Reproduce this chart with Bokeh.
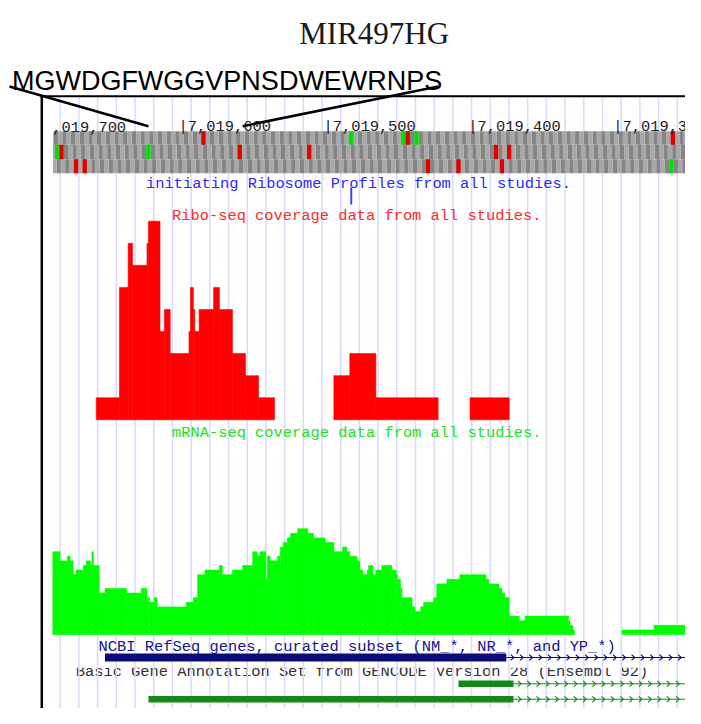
import numpy as np
from bokeh.plotting import figure
from bokeh.models import Range1d
from bokeh.core.properties import value
from bokeh.embed import file_html
from bokeh.resources import INLINE

# ---------------- data (genome coordinates, chr17) ----------------
title_text = "MIR497HG"
peptide = "MGWDGFWGGVPNSDWEWRNPS"
orf_bounds = [7019624, 7019559]          # ATG centre, end of stop codon

ruler_ticks = [7019600, 7019500, 7019400, 7019300]
ruler_labels = ["|7,019,600", "|7,019,500", "|7,019,400", "|7,019,300"]
ruler_clipped_tick = 7019700
ruler_clipped_label = ",019,700"

# start (green) / stop (red) codons in the three reading frames
codon_frame = [1, 1, 1, 1, 1, 1,
               2, 2, 2, 2, 2, 2, 2,
               3, 3, 3, 3, 3, 3]
codon_center = [7019586, 7019484, 7019448, 7019445, 7019439, 7019262,
                7019687, 7019684, 7019624, 7019561, 7019513, 7019384, 7019375,
                7019674, 7019668, 7019431, 7019410, 7019380, 7019263]
codon_kind = ["stop", "start", "start", "stop", "start", "stop",
              "start", "stop", "start", "stop", "stop", "stop", "stop",
              "stop", "stop", "stop", "stop", "stop", "start"]

# initiating ribosome profile peak
iribo_pos = [7019484]

# Ribo-seq coverage (reads)
ribo_start = [7019660, 7019644, 7019638, 7019635, 7019625, 7019624, 7019616, 7019613,
              7019609, 7019596, 7019595, 7019593, 7019592, 7019589, 7019579, 7019575,
              7019566, 7019557, 7019548, 7019496, 7019485, 7019467, 7019402]
ribo_end = [7019644, 7019638, 7019635, 7019625, 7019624, 7019616, 7019613, 7019609,
            7019596, 7019595, 7019593, 7019592, 7019589, 7019579, 7019575, 7019566,
            7019557, 7019548, 7019537, 7019485, 7019467, 7019424, 7019375]
ribo_reads = [1, 6, 8, 7, 8, 9, 4, 5, 3, 4, 6, 5, 4, 5, 6, 5, 3, 2, 1, 2, 3, 1, 1]

# mRNA-seq coverage: step edges and coverage between consecutive edges
mrna_edges = [7019690, 7019685, 7019680, 7019678, 7019676, 7019674, 7019669, 7019667,
              7019664, 7019663, 7019662, 7019658, 7019654, 7019639, 7019629, 7019625,
              7019624, 7019623, 7019620, 7019618, 7019598, 7019593, 7019590, 7019585,
              7019575, 7019573, 7019566, 7019559, 7019552, 7019549, 7019547, 7019543,
              7019542, 7019540, 7019535, 7019533, 7019531, 7019528, 7019526, 7019521,
              7019514, 7019510, 7019502, 7019496, 7019490, 7019487, 7019485, 7019480,
              7019478, 7019476, 7019473, 7019472, 7019469, 7019467, 7019463, 7019456,
              7019453, 7019452, 7019450, 7019449, 7019442, 7019440, 7019436, 7019434,
              7019427, 7019425, 7019418, 7019409, 7019391, 7019389, 7019382, 7019380,
              7019378, 7019375, 7019368, 7019364, 7019334, 7019333, 7019331, 7019330,
              7019297, 7019275, 7019248, 7019244, 7019230]
mrna_cov = [18, 16, 17, 16, 13, 14, 15, 16, 15, 18, 15, 9, 10, 9, 10, 7,
            8, 7, 8, 6, 7, 8, 13, 14, 15, 13, 14, 15, 18, 17, 18, 12,
            17, 16, 17, 19, 20, 21, 22, 23, 22, 21, 20, 18, 19, 18, 17, 16,
            14, 13, 14, 15, 13, 14, 15, 14, 13, 12, 10, 8, 6, 5, 6, 7,
            8, 11, 12, 13, 12, 11, 10, 9, 8, 4, 3, 4, 3, 2, 1, 0,
            1, 2, 1, 2]

# gene models
refseq_exon = [7019654, 7019377]
refseq_intron_end = 7019230
gencode_exon_start = [7019410, 7019624, 7019654]
gencode_exon_end = [7019372, 7019372, 7019230]
gencode_intron_end = [7019230, 7019230, None]

label_iribo = "initiating Ribosome Profiles from all studies."
label_ribo = "Ribo-seq coverage data from all studies."
label_mrna = "mRNA-seq coverage data from all studies."
label_refseq = "NCBI RefSeq genes, curated subset (NM_*, NR_*, and YP_*)"
label_gencode = "Basic Gene Annotation Set from GENCODE Version 28 (Ensembl 92)"

# ---------------- layout (picture pixels) ----------------
REF_BP, REF_PX, PX_PER_BP = 7019600, 182.7, 1.4487
W, H = 685, 708


def g(px):
    return REF_BP - (px - REF_PX) / PX_PER_BP


RIBO_BASE, RIBO_PX = 419.3, 22.07
MRNA_BASE, MRNA_PX = 634.0, 4.6
VIEW_LEFT = g(52.5)
VIEW_RIGHT = g(701)
MONO = value("Liberation Mono")
FS = "15.4px"
CHAR_W = 9.24

p = figure(width=W, height=H, x_range=Range1d(g(0), g(W)), y_range=Range1d(H, 0),
           output_backend="svg", toolbar_location=None, min_border=0,
           x_axis_location=None, y_axis_location=None, title=None,
           outline_line_color=None, background_fill_color="white",
           border_fill_color="white")
p.grid.visible = False
p.extra_y_ranges = {
    "ribo": Range1d((RIBO_BASE - H) / RIBO_PX, RIBO_BASE / RIBO_PX),
    "mrna": Range1d((MRNA_BASE - H) / MRNA_PX, MRNA_BASE / MRNA_PX),
}

# GENCODE track label, mostly hidden behind the upper browser panel
p.text(x=[g(361.5)], y=[671.3], text=[label_gencode], text_font=MONO, text_font_size=FS,
       text_color="#333333", text_align="center", text_baseline="alphabetic")
p.quad(left=[g(45)], right=[g(701)], top=[657], bottom=[667.3],
       fill_color="white", line_color=None)

# guide lines
grid_step = 18.7 / PX_PER_BP
grid_x = g(59.7) - grid_step * np.arange(0, 36)
p.segment(x0=grid_x, y0=97, x1=grid_x, y1=724, line_color="#d9d9ff", line_width=1.5)

# three-frame translation
frame_rows = {1: (130.7, 144.3), 2: (144.3, 158.7), 3: (158.7, 172.7)}
for f, (top, bot) in frame_rows.items():
    anchor = next(c for fr, c in zip(codon_frame, codon_center) if fr == f)
    k = np.arange(-250, 250)
    cen = anchor + 3 * k
    keep = (cen - 1.5 < VIEW_LEFT) & (cen + 1.5 > VIEW_RIGHT - 6)
    cen, kk = cen[keep], k[keep]
    p.quad(left=np.minimum(cen + 1.5, VIEW_LEFT), right=cen - 1.5, top=top, bottom=bot,
           fill_color=np.where(kk % 2 == 0, "#858585", "#a8a8a8").tolist(), line_color=None)
cc = np.array(codon_center, dtype=float)
p.quad(left=np.minimum(cc + 1.5, VIEW_LEFT), right=cc - 1.5,
       top=[frame_rows[f][0] for f in codon_frame],
       bottom=[frame_rows[f][1] for f in codon_frame],
       fill_color=["#00e000" if k == "start" else "#e00000" for k in codon_kind],
       line_color=None)

# ruler
p.text(x=ruler_ticks, y=126.7, text=ruler_labels, text_font=MONO, text_font_size=FS,
       text_color="#222222", text_align="left", text_baseline="alphabetic", x_offset=-4.6)
p.text(x=[ruler_clipped_tick], y=[126.7], text=[ruler_clipped_label], text_font=MONO,
       text_font_size=FS, text_color="#222222", text_align="left",
       text_baseline="alphabetic", x_offset=-4.6 + 2 * CHAR_W)

# track labels
p.text(x=[g(358)], y=[183.3], text=[label_iribo], text_font=MONO, text_font_size=FS,
       text_color="#2a2aff", text_align="center", text_baseline="alphabetic")
p.text(x=[g(356.2)], y=[215], text=[label_ribo], text_font=MONO, text_font_size=FS,
       text_color="#ff2a2a", text_align="center", text_baseline="alphabetic")
p.text(x=[g(356.2)], y=[432], text=[label_mrna], text_font=MONO, text_font_size=FS,
       text_color="#22e022", text_align="center", text_baseline="alphabetic")
p.text(x=[g(356.7)], y=[646.7], text=[label_refseq], text_font=MONO, text_font_size=FS,
       text_color="#14148c", text_align="center", text_baseline="alphabetic")

# initiating ribosome peak
p.segment(x0=iribo_pos, y0=187, x1=iribo_pos, y1=204, line_color="#3344ff", line_width=2)

# Ribo-seq
p.quad(left=ribo_start, right=ribo_end, bottom=0, top=ribo_reads, y_range_name="ribo",
       fill_color="#ff0000", line_color="#ff0000", line_width=0.6)

# mRNA-seq
me = np.array(mrna_edges, dtype=float)
mc = np.array(mrna_cov, dtype=float)
nz = mc > 0
p.quad(left=me[:-1][nz], right=me[1:][nz], bottom=0, top=mc[nz], y_range_name="mrna",
       fill_color="#00ff00", line_color="#00ff00", line_width=0.6)


def intron(x_from, x_to, yc, color):
    p.segment(x0=[x_from], y0=[yc], x1=[x_to], y1=[yc], line_color=color, line_width=1.2)
    xs = np.arange(x_from - 6 / PX_PER_BP, x_to, -9.3 / PX_PER_BP)
    a = 1.6 / PX_PER_BP
    p.segment(x0=np.concatenate([xs + a, xs + a]),
              y0=np.concatenate([np.full(len(xs), yc - 2.8), np.full(len(xs), yc + 2.8)]),
              x1=np.concatenate([xs - a, xs - a]), y1=yc, line_color=color, line_width=1.1)


# RefSeq gene
p.quad(left=[refseq_exon[0]], right=[refseq_exon[1]], top=[653], bottom=[661],
       fill_color="#0c0c78", line_color=None)
intron(refseq_exon[1], refseq_intron_end, 657, "#0c0c78")

# GENCODE transcripts
gencode_rows = [(680, 686.5), (695.5, 702), (710.5, 717)]
for s, e, ie, (t, b) in zip(gencode_exon_start, gencode_exon_end, gencode_intron_end, gencode_rows):
    p.quad(left=[s], right=[e], top=[t], bottom=[b], fill_color="#138a18", line_color=None)
    if ie is not None:
        intron(e, ie, (t + b) / 2, "#138a18")

# panel borders
p.segment(x0=[g(40)], y0=[95.7], x1=[g(701)], y1=[95.7], line_color="black", line_width=2)
p.segment(x0=[g(41.3)], y0=[95], x1=[g(41.3)], y1=[724], line_color="black", line_width=2.5)

# pointer lines from peptide to ORF
p.segment(x0=[g(9), g(437.7)], y0=[86, 86], x1=orf_bounds, y1=[125.7, 125.7],
          line_color="black", line_width=2.5)

# title and peptide
p.text(x=[g(373.7)], y=[33.3], text=[title_text], text_font=value("Liberation Serif"),
       text_font_size="31px", text_color="#1a1a1a", text_align="center",
       text_baseline="alphabetic")
p.text(x=[g(11.4)], y=[80], text=[peptide], text_font=value("Liberation Sans"),
       text_font_size="27px", text_color="black", text_align="left",
       text_baseline="alphabetic")

open("out.html", "w").write(file_html(p, INLINE))
